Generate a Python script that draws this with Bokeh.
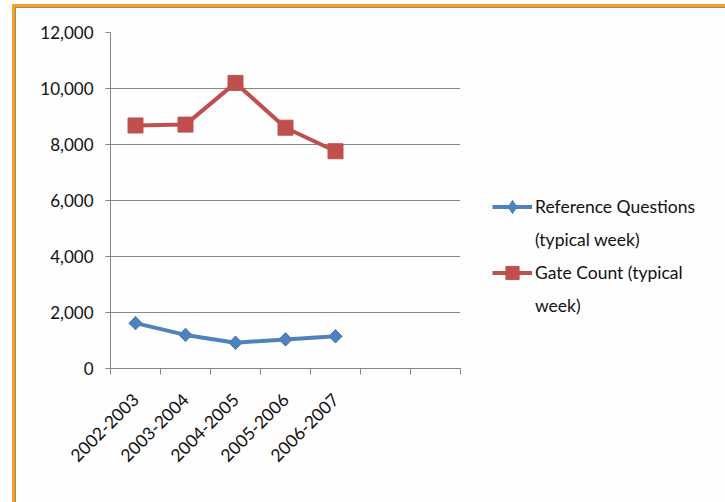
import math
from bokeh.plotting import figure
from bokeh.models import (FixedTicker, NumeralTickFormatter, Legend, LegendItem, Range1d)
from bokeh.embed import file_html
from bokeh.resources import INLINE

years = ["2002-2003", "2003-2004", "2004-2005", "2005-2006", "2006-2007"]
ref_questions = [1620, 1200, 920, 1040, 1150]
gate_count = [8680, 8710, 10200, 8600, 7760]
y_ticks = [0, 2000, 4000, 6000, 8000, 10000, 12000]
n_slots = 7  # category slots on the axis (two left empty)
legend_lines = [["Reference Questions", "(typical week)"],
                ["Gate Count (typical", "week)"]]

xs = [i + 0.5 for i in range(len(years))]

FONT = "Lato"
GRID = "#868686"
BLUE = "#4F81BD"
RED = "#C0504D"

p = figure(frame_width=350, frame_height=336, output_backend="svg", toolbar_location=None,
           x_range=Range1d(0, n_slots), y_range=Range1d(0, 12000),
           min_border_left=94, min_border_right=256, min_border_top=24,
           min_border_bottom=134)
p.styles = {"margin-left": "16px", "margin-top": "8px", "box-shadow": "0 0 0 1px #8a8a8a",
            "outline": "3px solid #F7A21B", "outline-offset": "1px"}
p.background_fill_color = "#FEFEFE"
p.border_fill_color = "#FEFEFE"
p.outline_line_color = None

# y axis
p.yaxis.ticker = FixedTicker(ticks=y_ticks)
p.yaxis.formatter = NumeralTickFormatter(format="0,0")
p.yaxis.axis_line_color = GRID
p.yaxis.major_tick_line_color = GRID
p.yaxis.major_tick_out = 5
p.yaxis.major_tick_in = 0
p.yaxis.minor_tick_line_color = None
p.yaxis.major_label_text_font = FONT
p.yaxis.major_label_text_font_size = "17px"
p.yaxis.major_label_text_color = "#111111"
p.yaxis.major_label_standoff = 12
p.ygrid.ticker = FixedTicker(ticks=y_ticks)
p.ygrid.grid_line_color = GRID
p.ygrid.grid_line_width = 1

# x axis
p.xaxis.ticker = FixedTicker(ticks=xs, minor_ticks=list(range(n_slots + 1)))
p.xaxis.major_label_overrides = {x: y for x, y in zip(xs, years)}
p.xaxis.axis_line_color = GRID
p.xaxis.major_tick_line_color = None
p.xaxis.minor_tick_line_color = GRID
p.xaxis.minor_tick_out = 6
p.xaxis.minor_tick_in = 0
p.xaxis.major_label_orientation = math.pi / 4
p.xaxis.major_label_text_font = FONT
p.xaxis.major_label_text_font_size = "17.5px"
p.xaxis.major_label_text_color = "#111111"
p.xaxis.major_label_standoff = 22
p.xgrid.grid_line_color = None

l1 = p.line(xs, ref_questions, line_color=BLUE, line_width=4)
m1 = p.scatter(xs, ref_questions, marker="square", angle=math.pi / 4, size=9.5,
               fill_color=BLUE, line_color=BLUE)
k1 = p.scatter(xs, ref_questions, marker="diamond", size=13,
               fill_color=BLUE, line_color=BLUE)
l2 = p.line(xs, gate_count, line_color=RED, line_width=4)
m2 = p.scatter(xs, gate_count, marker="square", size=15, fill_color=RED, line_color=RED)
# invisible placeholders for the continuation lines of the legend labels
d1 = p.line(x=[], y=[], line_alpha=0)
d2 = p.line(x=[], y=[], line_alpha=0)

legend = Legend(items=[
    LegendItem(label=legend_lines[0][0], renderers=[l1, k1]),
    LegendItem(label=legend_lines[0][1], renderers=[d1]),
    LegendItem(label=legend_lines[1][0], renderers=[l2, m2]),
    LegendItem(label=legend_lines[1][1], renderers=[d2]),
], location=(32, 46))
legend.label_text_font = FONT
legend.label_text_font_size = "17.5px"
legend.label_text_color = "#111111"
legend.glyph_width = 40
legend.glyph_height = 33
legend.label_height = 20
legend.label_standoff = 3
legend.spacing = 0
legend.padding = 0
legend.margin = 0
legend.border_line_color = None
legend.background_fill_alpha = 0
p.add_layout(legend, "right")

open("out.html", "w").write(file_html(p, INLINE))
